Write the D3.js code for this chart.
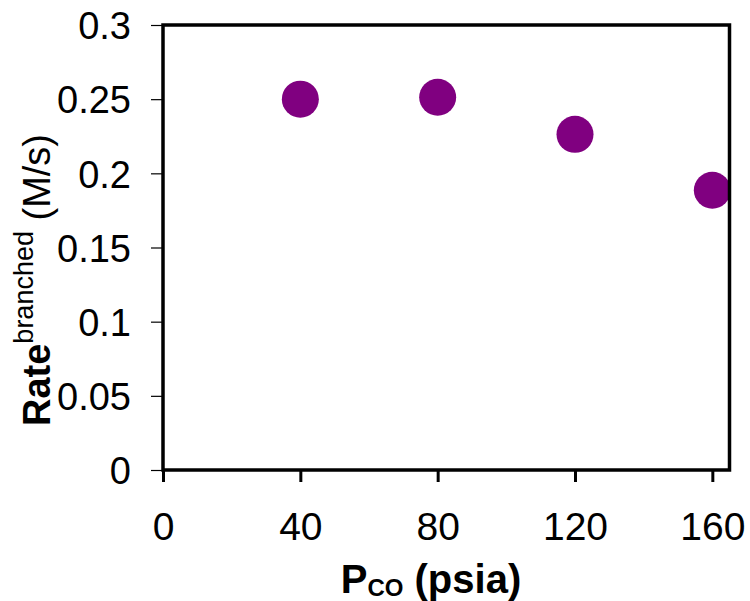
<!DOCTYPE html>
<html>
<head>
<meta charset="utf-8">
<script src="https://cdn.jsdelivr.net/npm/d3@7"></script>
<style>
  html, body { margin: 0; padding: 0; background: #fff; }
  svg { display: block; }
  text { font-family: "Liberation Sans", Arial, sans-serif; fill: #000; }
</style>
</head>
<body>
<svg id="chart" width="750" height="601"></svg>
<script>
// CO pressure (psia) and branched-product rate (M/s)
const pressures = [40, 80, 120, 160];
const rates = [0.250, 0.2513, 0.2263, 0.1886];
const xTicks = [0, 40, 80, 120, 160];
const yTicks = [0, 0.05, 0.1, 0.15, 0.2, 0.25, 0.3];

const svg = d3.select("#chart");
const plotLeft = 163, plotRight = 729.5, plotTop = 25, plotBottom = 470;

const x = d3.scaleLinear().domain([0, 165]).range([plotLeft, plotRight]);
const y = d3.scaleLinear().domain([0, 0.3]).range([plotBottom, plotTop]);

// markers
svg.append("g")
  .selectAll("circle")
  .data(pressures.map((p, i) => ({ p, r: rates[i] })))
  .join("circle")
  .attr("cx", d => x(d.p))
  .attr("cy", d => y(d.r))
  .attr("r", 18.5)
  .attr("fill", "#800080");

// y axis: thin outward ticks
const yAxis = svg.append("g")
  .attr("transform", `translate(${plotLeft},0)`)
  .call(d3.axisLeft(y).tickValues(yTicks).tickSize(12).tickPadding(20)
    .tickFormat(d => String(+d.toFixed(2))));
yAxis.select(".domain").remove();
yAxis.selectAll(".tick line").attr("stroke", "#000").attr("stroke-width", 1.2);
yAxis.selectAll(".tick text")
  .style("font-size", "38px")
  .attr("font-family", null)
  .attr("dy", "0.36em");

// x axis: heavy outward ticks
const xAxis = svg.append("g")
  .attr("transform", `translate(0,${plotBottom})`)
  .call(d3.axisBottom(x).tickValues(xTicks).tickSize(12).tickPadding(30)
    .tickFormat(d3.format("d")));
xAxis.select(".domain").remove();
xAxis.selectAll(".tick line").attr("stroke", "#000").attr("stroke-width", 3);
xAxis.selectAll(".tick text")
  .style("font-size", "39px")
  .attr("font-family", null)
  .attr("dy", "0.71em");

// plot frame
svg.append("rect")
  .attr("x", plotLeft).attr("y", plotTop)
  .attr("width", plotRight - plotLeft).attr("height", plotBottom - plotTop)
  .attr("fill", "none")
  .attr("stroke", "#000")
  .attr("stroke-width", 3.5);

// x title: P subscript CO (psia)
const xt = svg.append("text")
  .attr("x", 431).attr("y", 593)
  .attr("text-anchor", "middle")
  .style("font-weight", "bold")
  .style("font-size", "40px");
xt.append("tspan").text("P");
xt.append("tspan").attr("dy", 3).style("font-size", "24px").text("CO");
xt.append("tspan").attr("dy", -3).text(" (psia)");

// y title: Rate superscript branched (M/s)
const yt = svg.append("text")
  .attr("transform", "translate(50,280) rotate(-90)")
  .attr("text-anchor", "middle")
  .style("font-size", "38px");
yt.append("tspan").style("font-weight", "bold").text("Rate");
yt.append("tspan").attr("dy", -17).style("font-size", "27px").text("branched");
yt.append("tspan").attr("dy", 17).text(" (M/s)");
</script>
</body>
</html>
